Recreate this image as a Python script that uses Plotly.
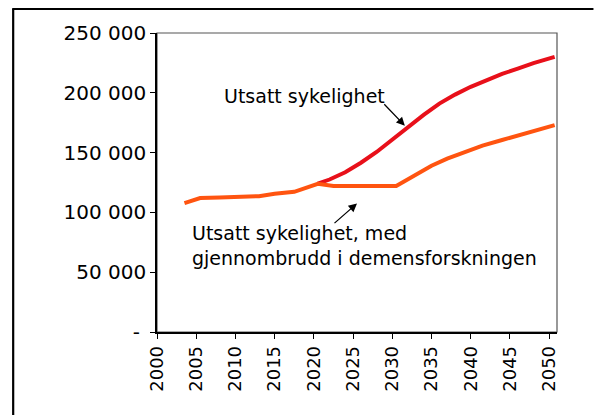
import plotly.graph_objects as go

# ---- data ----
years_orange = [2003.5, 2005.5, 2008, 2010, 2013, 2015, 2017.5, 2020.5, 2022.5,
                2030.5, 2033, 2035, 2037, 2039, 2041.5, 2044, 2046, 2048, 2050.7]
values_orange = [107800, 112000, 112500, 113200, 113600, 115500, 117200, 123900, 122000,
                 122000, 131000, 139000, 145000, 150000, 155800, 160500, 164200, 168500, 173000]

years_red = [2020.5, 2022, 2024, 2026, 2028, 2030, 2032, 2034, 2036, 2038,
             2040, 2042, 2044, 2046, 2048, 2050.7]
values_red = [124000, 127500, 133500, 141500, 150500, 161000, 172000, 181500, 191000, 198500,
              205000, 210800, 215800, 220200, 224800, 230000]

x_ticks = [2000, 2005, 2010, 2015, 2020, 2025, 2030, 2035, 2040, 2045, 2050]
y_ticks = [0, 50000, 100000, 150000, 200000, 250000]
y_ticktext = ["-\u00a0", "50 000", "100 000", "150 000", "200 000", "250 000"]

label_red = "Utsatt sykelighet"
label_orange = "Utsatt sykelighet, med<br>gjennombrudd i demensforskningen"

RED = "#e8101a"
ORANGE = "#ff5410"

# ---- layout geometry (pixels) ----
W, H = 599, 415
ML, MR, MT, MB = 157, 41.5, 33, 83
PW, PH = W - ML - MR, H - MT - MB


def px_to_paper_x(px):
    return (px - ML) / PW


def px_to_paper_y(py):
    return (H - MB - py) / PH


fig = go.Figure()
fig.add_trace(go.Scatter(x=years_red, y=values_red, mode="lines",
                         line=dict(color=RED, width=4), hoverinfo="skip",
                         showlegend=False))
fig.add_trace(go.Scatter(x=years_orange, y=values_orange, mode="lines",
                         line=dict(color=ORANGE, width=4), hoverinfo="skip",
                         showlegend=False))

fig.update_layout(
    width=W, height=H,
    margin=dict(l=ML, r=MR, t=MT, b=MB, pad=0),
    paper_bgcolor="white", plot_bgcolor="white",
    font=dict(family="DejaVu Sans", color="black"),
    showlegend=False,
)
fig.update_xaxes(range=[2000, 2051], tickmode="array", tickvals=x_ticks,
                 ticktext=[str(v) for v in x_ticks], tickangle=-90,
                 ticks="outside", ticklen=5, tickwidth=1.2, tickcolor="black",
                 showline=True, linecolor="black", linewidth=1.5,
                 showgrid=False, zeroline=False, automargin=False,
                 tickfont=dict(family="DejaVu Sans", size=18, color="black"))
fig.update_yaxes(range=[0, 250000], tickmode="array", tickvals=y_ticks,
                 ticktext=y_ticktext,
                 ticks="outside", ticklen=5, tickwidth=1.2, tickcolor="black",
                 showline=True, linecolor="black", linewidth=1.5,
                 showgrid=False, zeroline=False, automargin=False,
                 tickfont=dict(family="DejaVu Sans", size=20, color="black"))

# plot frame (top / right) in grey
fig.add_shape(type="rect", xref="paper", yref="paper", x0=0, y0=0, x1=1, y1=1,
              line=dict(color="#555555", width=1.2), layer="below")
# outer figure border (left and top)
fig.add_shape(type="line", xref="paper", yref="paper",
              x0=px_to_paper_x(13), y0=px_to_paper_y(9),
              x1=px_to_paper_x(13), y1=px_to_paper_y(416),
              line=dict(color="black", width=2.2))
fig.add_shape(type="line", xref="paper", yref="paper",
              x0=px_to_paper_x(12), y0=px_to_paper_y(9),
              x1=px_to_paper_x(594), y1=px_to_paper_y(9),
              line=dict(color="black", width=2.2))

# text labels
fig.add_annotation(x=2008.3, y=197500, xref="x", yref="y", text=label_red,
                   showarrow=False, xanchor="left", yanchor="middle",
                   font=dict(family="DejaVu Sans", size=19, color="black"))
fig.add_annotation(x=2004.2, y=72500, xref="x", yref="y", text=label_orange,
                   showarrow=False, xanchor="left", yanchor="middle", align="left",
                   font=dict(family="DejaVu Sans", size=19, color="black"))

# arrows
fig.add_annotation(x=2031.6, y=172500, xref="x", yref="y", text="",
                   showarrow=True, ax=-22, ay=-23, arrowhead=2, arrowsize=1.3,
                   arrowwidth=1.3, arrowcolor="black")
fig.add_annotation(x=2025.5, y=107500, xref="x", yref="y", text="",
                   showarrow=True, ax=-24, ay=21, arrowhead=2, arrowsize=1.3,
                   arrowwidth=1.3, arrowcolor="black")

fig.write_html("out.html", config={"displayModeBar": False},
               post_script="document.body.style.margin='0';document.body.style.padding='0';")
